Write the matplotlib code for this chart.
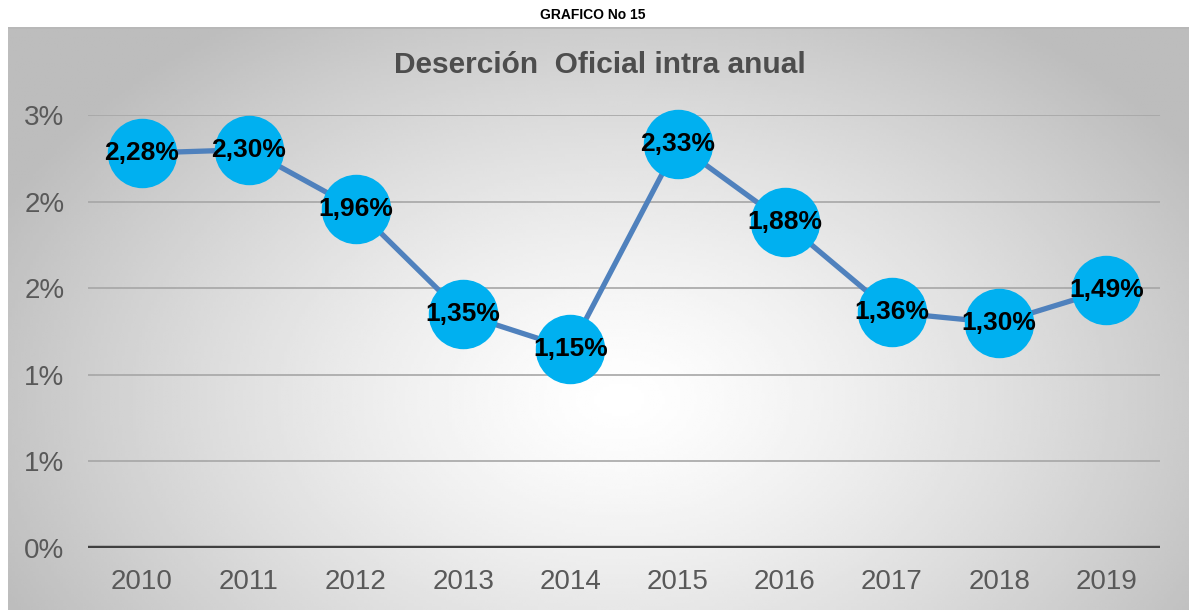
import matplotlib
matplotlib.use('Agg')
import matplotlib.pyplot as plt
import numpy as np

plt.rcParams['font.family'] = ['Liberation Sans', 'DejaVu Sans']

# Data
years = ["2010", "2011", "2012", "2013", "2014", "2015", "2016", "2017", "2018", "2019"]
desercion = [2.28, 2.30, 1.96, 1.35, 1.15, 2.33, 1.88, 1.36, 1.30, 1.49]
y_ticks = [0, 0.5, 1.0, 1.5, 2.0, 2.5]

W, H = 1189, 610
fig = plt.figure(figsize=(W / 100, H / 100), dpi=100)

# radial gradient panel behind the chart
bg = fig.add_axes([8 / W, 0, 1 - 8 / W, 583 / H], zorder=-1)
gx, gy = np.meshgrid(np.linspace(8, W, 400), np.linspace(27, H, 200))
d = np.sqrt(((gx - 620) / 620) ** 2 + ((gy - 400) / 420) ** 2)
shade = 1.0 - 0.23 * np.clip(d, 0, 1.1) ** 1.3
bg.imshow(shade, cmap='gray', vmin=0, vmax=1, aspect='auto', interpolation='bilinear',
          extent=[0, 1, 0, 1])
bg.axhline(1, color='#b8b8b8', lw=2)
bg.axis('off')

ax = fig.add_axes([88 / W, 1 - 548 / H, (1160 - 88) / W, (548 - 115) / H])
ax.set_facecolor('none')
x = np.arange(len(years))

ax.plot(x, desercion, color='#4f81bd', lw=3.8, zorder=3, clip_on=False)
ax.plot(x, desercion, 'o', color='#00b0f0', markersize=49, zorder=4, clip_on=False)
for xi, v in zip(x, desercion):
    ax.text(xi, v, f"{v:.2f}%".replace('.', ','), ha='center', va='center',
            fontsize=19, fontweight='bold', color='black', zorder=5)

ax.set_xlim(-0.5, len(years) - 0.5)
ax.set_ylim(0, 2.5)
ax.set_xticks(x)
ax.set_xticklabels(years)
ax.set_yticks(y_ticks)
ax.set_yticklabels([f"{int(np.floor(t + 0.5))}%" for t in y_ticks])
ax.tick_params(length=0, labelsize=20, colors='#595959')
ax.tick_params(axis='x', pad=15)
ax.tick_params(axis='y', pad=17)
for t in y_ticks[1:]:
    ax.axhline(t, color='#a6a6a6', lw=1.2, zorder=1)
ax.axhline(0, color='#404040', lw=3.2, zorder=2)
for s in ax.spines.values():
    s.set_visible(False)

fig.text(593 / W, 1 - 15 / H, "GRAFICO No 15", ha='center', va='center',
         fontsize=10, fontweight='bold')
fig.text(600 / W, 1 - 65 / H, "Deserción  Oficial intra anual", ha='center', va='center',
         fontsize=21.5, fontweight='bold', color='#4d4d4d')

fig.savefig("out.png", dpi=100)
